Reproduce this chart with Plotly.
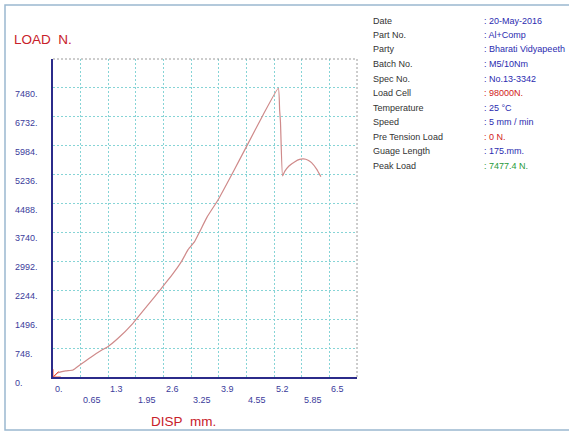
import plotly.graph_objects as go

# ---- data ----
disp = [0.0, 0.12, 0.30, 0.47, 0.63, 0.90, 1.14, 1.29, 1.53, 1.88, 2.20, 2.55, 2.80, 3.02, 3.18, 3.33,
        3.45, 3.62, 3.88, 4.24, 4.55, 4.94, 5.30, 5.33, 5.35, 5.40, 5.45, 5.55, 5.69, 5.80, 5.89,
        6.00, 6.08, 6.20, 6.30]
load = [0, 111, 160, 181, 311, 520, 690, 784, 1001, 1390, 1819, 2296, 2640, 2984, 3300, 3502,
        3760, 4130, 4581, 5313, 5960, 6780, 7471, 6910, 6600, 5202, 5320, 5460, 5572, 5630, 5642,
        5610, 5546, 5380, 5184]

x_ticks = [0.0, 0.65, 1.3, 1.95, 2.6, 3.25, 3.9, 4.55, 5.2, 5.85, 6.5]
x_tick_labels = ["0.", "0.65", "1.3", "1.95", "2.6", "3.25", "3.9", "4.55", "5.2", "5.85", "6.5"]
y_ticks = [0, 748, 1496, 2244, 2992, 3740, 4488, 5236, 5984, 6732, 7480]
y_tick_labels = ["0.", "748.", "1496.", "2244.", "2992.", "3740.", "4488.", "5236.", "5984.", "6732.", "7480."]

info_labels = ["Date", "Part No.", "Party", "Batch No.", "Spec No.", "Load Cell", "Temperature",
               "Speed", "Pre Tension Load", "Guage Length", "Peak Load"]
info_values = [": 20-May-2016", ": Al+Comp", ": Bharati Vidyapeeth", ": M5/10Nm", ": No.13-3342",
               ": 98000N.", ": 25 °C", ": 5 mm / min", ": 0 N.", ": 175.mm.", ": 7477.4 N."]
info_colors = ["#2b2bb0", "#2b2bb0", "#2b2bb0", "#2b2bb0", "#2b2bb0", "#d02020", "#2b2bb0",
               "#2b2bb0", "#d02020", "#2b2bb0", "#1f9a3a"]

W, H = 569, 432
ML, MR, MT, MB = 53, 212, 59, 55
PW, PH = W - ML - MR, H - MT - MB

FONT = "Liberation Sans, Arial, sans-serif"
TICK_COLOR = "#3b3b9b"
GRID = "#86d4d6"

fig = go.Figure()
fig.add_trace(go.Scatter(x=disp, y=load, mode="lines",
                         line=dict(color="#cf8a8a", width=1.2, shape="spline", smoothing=0.4),
                         hoverinfo="skip"))
fig.add_trace(go.Scatter(x=[disp[0]], y=[load[0]], mode="markers",
                         marker=dict(symbol="asterisk-open", size=13,
                                     line=dict(color="#555555", width=1)),
                         hoverinfo="skip"))

ann = []
# x tick labels, two staggered rows, left-aligned at gridlines
for i, (v, t) in enumerate(zip(x_ticks, x_tick_labels)):
    ann.append(dict(x=v, y=0, xref="x", yref="paper", text=t, showarrow=False,
                    xanchor="left", yanchor="middle", yshift=-12 if i % 2 == 0 else -23,
                    font=dict(family=FONT, size=9, color=TICK_COLOR)))
# y tick labels
for v, t in zip(y_ticks, y_tick_labels):
    ann.append(dict(x=(13 - ML) / PW, y=v, xref="paper", yref="y", text=t, showarrow=False,
                    xanchor="left", yanchor="middle", yshift=-6,
                    font=dict(family=FONT, size=9, color=TICK_COLOR)))
# axis titles
ann.append(dict(x=(12 - ML) / PW, y=1 + (MT - 40) / PH, xref="paper", yref="paper", text="LOAD&nbsp;&nbsp;N.",
                showarrow=False, xanchor="left", yanchor="middle",
                font=dict(family=FONT, size=13.5, color="#c8202a")))
ann.append(dict(x=(149 - ML) / PW, y=-(421 - MT - PH) / PH, xref="paper", yref="paper", text="DISP&nbsp;&nbsp;mm.",
                showarrow=False, xanchor="left", yanchor="middle",
                font=dict(family=FONT, size=13.5, color="#c8202a")))
# info panel
for i, (lab, val, col) in enumerate(zip(info_labels, info_values, info_colors)):
    ypix = 20.5 + i * 14.5
    yp = 1 - (ypix - MT) / PH
    ann.append(dict(x=(371 - ML) / PW, y=yp, xref="paper", yref="paper", text=lab, showarrow=False,
                    xanchor="left", yanchor="middle", font=dict(family=FONT, size=9, color="#333333")))
    ann.append(dict(x=(482 - ML) / PW, y=yp, xref="paper", yref="paper", text=val, showarrow=False,
                    xanchor="left", yanchor="middle", font=dict(family=FONT, size=9, color=col)))

shapes = [
    # top and right plot borders (dotted grey)
    dict(type="line", xref="paper", yref="paper", x0=0, x1=1, y0=1, y1=1,
         line=dict(color="#9a9a9a", width=1, dash="2px,2px")),
    dict(type="line", xref="paper", yref="paper", x0=1, x1=1, y0=0, y1=1,
         line=dict(color="#9a9a9a", width=1, dash="2px,2px")),
    # outer light blue frame
    dict(type="rect", xref="paper", yref="paper",
         x0=(5 - ML) / PW, x1=(W + 5 - ML) / PW,
         y0=-(430 - MT - PH) / PH, y1=1 + (MT - 5) / PH,
         line=dict(color="#9ab8d0", width=1.5), layer="below"),
]

fig.update_layout(
    width=W, height=H,
    margin=dict(l=ML, r=MR, t=MT, b=MB, pad=0),
    paper_bgcolor="white", plot_bgcolor="white",
    showlegend=False,
    annotations=ann, shapes=shapes,
    xaxis=dict(range=[0, 7.15], tickvals=x_ticks, showticklabels=False, ticks="",
               showgrid=True, gridcolor=GRID, griddash="2px,2px", gridwidth=1,
               showline=True, linecolor="#2b2b8a", linewidth=2, zeroline=False, fixedrange=True),
    yaxis=dict(range=[0, 8228], tickvals=y_ticks, showticklabels=False, ticks="",
               showgrid=True, gridcolor=GRID, griddash="2px,2px", gridwidth=1,
               showline=True, linecolor="#2b2b8a", linewidth=2, zeroline=False, fixedrange=True),
)

fig.write_html("out.html", config={"displayModeBar": False})
